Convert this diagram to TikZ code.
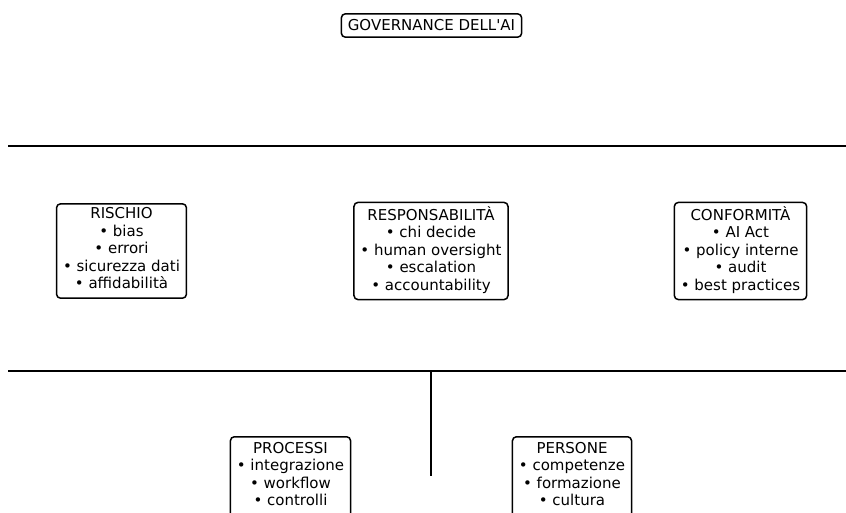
\documentclass[tikz,border=0pt]{standalone}
\usepackage{fontspec}
\newfontfamily\dv{DejaVu Sans}
\tikzset{
  box/.style={draw, line width=1.5pt, rounded corners=4pt, align=center, inner xsep=6.5pt, inner ysep=4pt,
    font=\dv\fontsize{15}{17.5}\selectfont, fill=white},
  rule/.style={line width=1.5pt}
}
\begin{document}
\begin{tikzpicture}[x=1pt,y=-1pt]
\useasboundingbox (0,0) rectangle (846,512);
\clip (0,0) rectangle (846,512);
\node[box, inner ysep=6pt] (gov) at (431.5,25.5) {GOVERNANCE DELL'AI};
\coordinate (l1a) at (8,146);
\coordinate (l1b) at (846,146);
\coordinate (l2a) at (8,371);
\coordinate (l2b) at (846,371);
\coordinate (vt) at (431,371);
\coordinate (vb) at (431,476);
\draw[rule] (l1a) -- (l1b);
\draw[rule] (l2a) -- (l2b);
\draw[rule] (vt) -- (vb);
\node[box] (ris) at (121.5,251) {RISCHIO\\• bias\\• errori\\• sicurezza dati\\• affidabilità\strut};
\node[box] (resp) at (431,251) {RESPONSABILITÀ\\• chi decide\\• human oversight\\• escalation\\• accountability\strut};
\node[box] (conf) at (740.5,251) {CONFORMITÀ\\• AI Act\\• policy interne\\• audit\\• best practices\strut};
\node[box, anchor=north] (proc) at (290.5,436) {\strut PROCESSI\\• integrazione\\• workflow\\• controlli\\\strut};
\node[box, anchor=north] (pers) at (572,436) {\strut PERSONE\\• competenze\\• formazione\\• cultura\\\strut};
\end{tikzpicture}
\end{document}
